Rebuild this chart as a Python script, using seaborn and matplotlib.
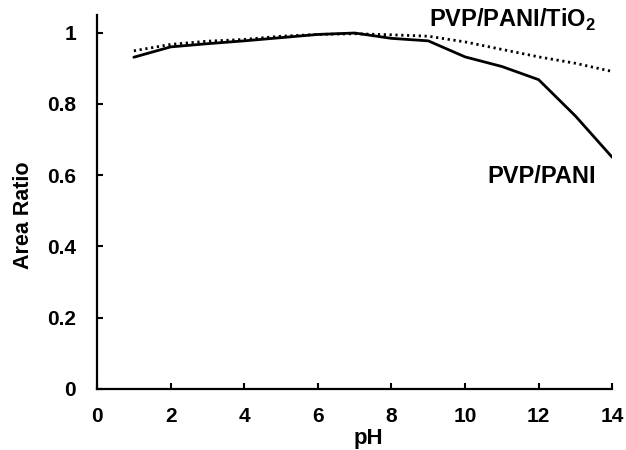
import matplotlib
matplotlib.use("Agg")
import matplotlib.pyplot as plt
import seaborn as sns
import pandas as pd

ph = [1, 2, 3, 4, 5, 6, 7, 8, 9, 10, 11, 12, 13, 14]
pvp_pani = [0.931, 0.960, 0.969, 0.977, 0.986, 0.995, 0.999, 0.984, 0.977, 0.932, 0.905, 0.868, 0.766, 0.65]
pvp_pani_tio2 = [0.949, 0.967, 0.976, 0.981, 0.99, 0.995, 0.997, 0.994, 0.99, 0.974, 0.953, 0.932, 0.914, 0.891]
xticks = [0, 2, 4, 6, 8, 10, 12, 14]
yticks = [0, 0.2, 0.4, 0.6, 0.8, 1.0]
ytick_labels = ["0", "0.2", "0.4", "0.6", "0.8", "1"]

sns.set_theme(style="ticks")
plt.rcParams['font.family'] = ['Liberation Sans', 'DejaVu Sans']
plt.rcParams['font.weight'] = 'bold'
plt.rcParams['text.color'] = 'black'
plt.rcParams['axes.labelcolor'] = 'black'
plt.rcParams['xtick.color'] = 'black'
plt.rcParams['ytick.color'] = 'black'
plt.rcParams['mathtext.fontset'] = 'custom'
plt.rcParams['mathtext.bf'] = 'Liberation Sans:bold'
plt.rcParams['mathtext.rm'] = 'Liberation Sans:bold'

fig = plt.figure(figsize=(6.26, 4.5), dpi=100)
ax = fig.add_axes([0.155, 0.136, 0.823, 0.831])

df1 = pd.DataFrame({"pH": ph, "ratio": pvp_pani})
df2 = pd.DataFrame({"pH": ph, "ratio": pvp_pani_tio2})
sns.lineplot(data=df2, x="pH", y="ratio", ax=ax, color="black", lw=2.0, linestyle=(0, (0.8, 1.3)))
sns.lineplot(data=df1, x="pH", y="ratio", ax=ax, color="black", lw=2.0)

ax.set_xlim(0, 14)
ax.set_ylim(0, 1.05)
ax.set_xticks(xticks)
ax.set_xticklabels([str(t) for t in xticks], fontsize=15, fontweight="bold")
ax.set_yticks(yticks)
ax.set_yticklabels(ytick_labels, fontsize=15, fontweight="bold")
ax.tick_params(direction="in", length=4.5, width=1.5, color="black")
ax.tick_params(axis="x", pad=13)
ax.tick_params(axis="y", pad=15)
for s in ["top", "right"]:
    ax.spines[s].set_visible(False)
for s in ["left", "bottom"]:
    ax.spines[s].set_linewidth(1.6)
    ax.spines[s].set_color("black")

ax.set_xlabel("pH", fontsize=16, fontweight="bold")
ax.set_ylabel("Area Ratio", fontsize=15.5, fontweight="bold")
ax.xaxis.set_label_coords(0.526, -0.104)
ax.yaxis.set_label_coords(-0.122, 0.465)

ax.text(11.3, 1.037, "PVP/PANI/TiO$_\\mathbf{2}$", fontsize=17, fontweight="bold", ha="center", va="center")
ax.text(12.07, 0.595, "PVP/PANI", fontsize=17, fontweight="bold", ha="center", va="center")

fig.savefig("out.png", dpi=100)
